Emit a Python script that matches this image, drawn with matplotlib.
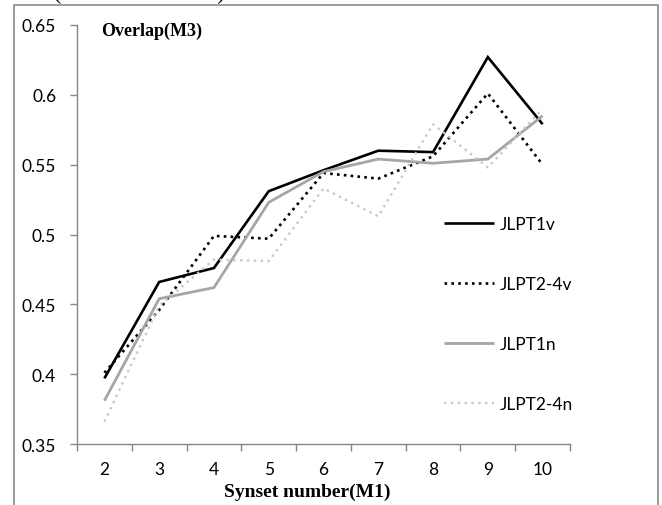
import numpy as np
import matplotlib
matplotlib.use('Agg')
import matplotlib.pyplot as plt
from matplotlib.patches import Rectangle

# synset numbers on the x axis
synsets = [2, 3, 4, 5, 6, 7, 8, 9, 10]

# overlap values
jlpt1v = [0.397, 0.466, 0.476, 0.531, 0.546, 0.560, 0.559, 0.627, 0.579]
jlpt24v = [0.401, 0.446, 0.499, 0.497, 0.544, 0.540, 0.556, 0.601, 0.550]
jlpt1n = [0.381, 0.454, 0.462, 0.523, 0.545, 0.554, 0.551, 0.554, 0.585]
jlpt24n = [0.366, 0.449, 0.482, 0.481, 0.533, 0.513, 0.579, 0.548, 0.590]

yticks = [0.35, 0.4, 0.45, 0.5, 0.55, 0.6, 0.65]
ytick_labels = ['0.35', '0.4', '0.45', '0.5', '0.55', '0.6', '0.65']

axis_grey = '#868686'
tick_font = 'Lato'
serif_font = ['Liberation Serif', 'DejaVu Serif']

fig = plt.figure(figsize=(6.62, 5.06), dpi=100)
ax = fig.add_axes([77/662, 61/506, 493/662, 419/506])

x = np.arange(len(synsets))  # category positions
ax.plot(x, jlpt1v, color='black', lw=1.9, label='JLPT1v', solid_joinstyle='miter', solid_capstyle='butt')
ax.plot(x, jlpt24v, color='black', lw=1.9, linestyle=(0, (1, 1.6)), label='JLPT2-4v')
ax.plot(x, jlpt1n, color='#a6a6a6', lw=2.0, label='JLPT1n', solid_joinstyle='miter', solid_capstyle='butt')
ax.plot(x, jlpt24n, color='#c8c8c8', lw=1.7, linestyle=(0, (1, 1.9)), label='JLPT2-4n')

ax.set_xlim(-0.5, len(synsets) - 0.5)
ax.set_ylim(0.35, 0.65)

# ticks between categories, labels at category centres
ax.set_xticks(np.arange(len(synsets) + 1) - 0.5)
ax.set_xticklabels([])
ax.set_xticks(x, minor=True)
ax.set_xticklabels([str(s) for s in synsets], minor=True, fontfamily=tick_font, fontsize=12.5)
ax.tick_params(axis='x', which='major', length=5, color=axis_grey, width=1)
ax.tick_params(axis='x', which='minor', length=0, pad=12)

ax.set_yticks(yticks)
ax.set_yticklabels(ytick_labels, fontfamily=tick_font, fontsize=12.5)
ax.tick_params(axis='y', length=5, color=axis_grey, width=1, pad=10)

for side in ['top', 'right']:
    ax.spines[side].set_visible(False)
for side in ['left', 'bottom']:
    ax.spines[side].set_color(axis_grey)
    ax.spines[side].set_linewidth(1)

ax.text(24/493, 0.988, 'Overlap(M3)', transform=ax.transAxes, fontfamily=serif_font,
        fontweight='bold', fontsize=13, va='center', ha='left')
ax.text(230/493, -47/419, 'Synset number(M1)', transform=ax.transAxes,
        fontfamily=serif_font, fontweight='bold', fontsize=14, va='center', ha='center')

leg = ax.legend(loc='upper left', bbox_to_anchor=(0.744, 0.545), frameon=False,
                handlelength=2.9, handletextpad=0.35, labelspacing=2.55, borderpad=0,
                borderaxespad=0, prop={'family': tick_font, 'size': 12.5})

# frame around the whole picture and the cut-off caption line above it
fig.patches.append(Rectangle((13.5/662, -0.1), 644.5/662, 1.1 - 5.5/506, transform=fig.transFigure,
                             fill=False, edgecolor='#8c8c8c', lw=1.2))
fig.text(15/662, 1 + 0.5/506, 'M1 (M1 from 2 to 10).', fontfamily=serif_font, fontsize=17,
         va='baseline', ha='left')

fig.savefig('out.png', dpi=100)
